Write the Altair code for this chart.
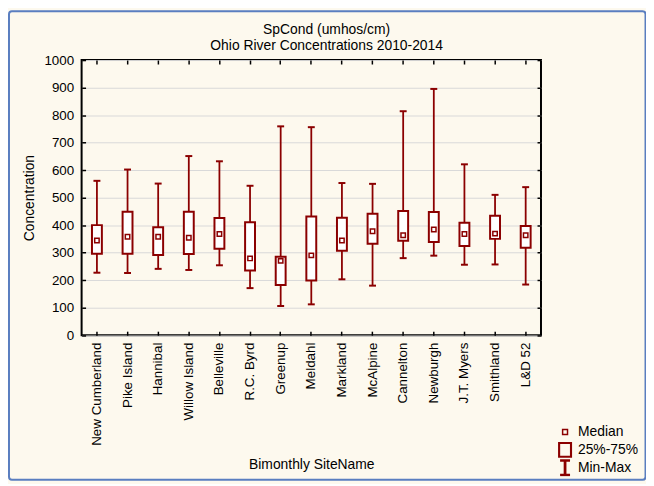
import altair as alt
import pandas as pd

# Ohio River SpCond box plot (min/max whiskers, 25-75% box, median square)
sites = ["New Cumberland", "Pike Island", "Hannibal", "Willow Island", "Belleville",
         "R.C. Byrd", "Greenup", "Meldahl", "Markland", "McAlpine",
         "Cannelton", "Newburgh", "J.T. Myers", "Smithland", "L&D 52"]
mins = [227, 226, 241, 237, 254, 171, 106, 112, 203, 180, 280, 289, 256, 257, 184]
q1s = [296, 296, 291, 295, 314, 235, 182, 199, 307, 332, 343, 339, 324, 350, 318]
medians = [344, 358, 358, 354, 368, 279, 270, 290, 344, 378, 363, 384, 368, 369, 363]
q3s = [400, 449, 392, 449, 426, 410, 285, 431, 427, 441, 451, 448, 409, 434, 397]
maxs = [561, 602, 551, 651, 632, 543, 759, 756, 553, 550, 814, 895, 621, 510, 538]
y_ticks = list(range(0, 1001, 100))

legend_items = ["Median", "25%-75%", "Min-Max"]
legend_shapes = ["M-0.33,-0.33H0.33V0.33H-0.33Z",
                 "M-0.8,-0.93H0.8V0.93H-0.8Z",
                 "M-0.67,-1H0.67M0,-1V1M-0.67,1H0.67"]
legend_widths = [1.5, 2.8, 1.3]

df = pd.DataFrame({"site": sites, "lo": mins, "q1": q1s, "med": medians,
                   "q3": q3s, "hi": maxs})

W, H = 463.7, 277.7
RED = "#8B0000"
FONT = "Liberation Sans"
CREAM = "#FDF9EE"

x_scale = alt.Scale(domain=sites, paddingInner=0, paddingOuter=0)
y_scale = alt.Scale(domain=[0, 1000], nice=False)


def tick_axis(orient, offset, **kw):
    # inward ticks: an axis pushed across the plot by a negative offset
    return alt.Axis(orient=orient, offset=offset, labels=False, domain=False,
                    grid=False, title=None, ticks=True, tickSize=4,
                    tickWidth=1.5, tickColor="black", **kw)


frame = alt.Chart(alt.Data(values=[{}])).mark_rect(
    fill="transparent", stroke="#5A7EC0", strokeWidth=2, cornerRadius=3, clip=False
).encode(
    x=alt.value(-73.3), x2=alt.value(569.2), y=alt.value(-49.3), y2=alt.value(423.7)
)

whisk = alt.Chart(df).mark_rule(color=RED, strokeWidth=1.8).encode(
    x=alt.X("site:N", scale=x_scale,
            axis=alt.Axis(title="Bimonthly SiteName", labelAngle=-90, ticks=False,
                          tickSize=0, domain=False, labelPadding=7,
                          titleX=W / 2, titleY=131, titleBaseline="middle")),
    y=alt.Y("lo:Q", scale=y_scale,
            axis=alt.Axis(values=y_ticks, format="d", ticks=False, tickSize=0,
                          domain=False, grid=True, gridColor="#d9d9d9", gridWidth=1,
                          labelPadding=8, title="Concentration",
                          titleX=-53, titleY=H / 2, titleBaseline="middle")),
    y2="hi:Q",
)

box = alt.Chart(df).mark_bar(size=10, fill="white", stroke=RED, strokeWidth=2).encode(
    x=alt.X("site:N", scale=x_scale, axis=tick_axis("bottom", -H)),
    y=alt.Y("q1:Q", scale=y_scale, axis=tick_axis("right", -W, values=y_ticks)),
    y2="q3:Q",
)

caps = alt.Chart(df).transform_fold(["lo", "hi"], as_=["end", "v"]).mark_tick(
    orient="horizontal", size=7, thickness=2, color=RED, opacity=1
).encode(
    x=alt.X("site:N", scale=x_scale, axis=tick_axis("top", -H)),
    y=alt.Y("v:Q", scale=y_scale, axis=tick_axis("left", -W, values=y_ticks)),
)

med = alt.Chart(df).mark_square(size=20, fill="white", stroke=RED, strokeWidth=1.5,
                                opacity=1).encode(
    x=alt.X("site:N", scale=x_scale, axis=None),
    y=alt.Y("med:Q", scale=y_scale, axis=None),
)

leg_props = dict(orient="none", legendX=479, legendY=367, title=None,
                 symbolSize=225, labelFontSize=14, labelFont=FONT,
                 labelColor="black", labelOffset=4, rowPadding=1, padding=0,
                 clipHeight=17, symbolStrokeColor=RED, symbolFillColor="transparent")

leg = alt.Chart(pd.DataFrame({"item": legend_items})).transform_filter(
    "false"
).mark_point(color=RED, filled=False, opacity=1).encode(
    shape=alt.Shape("item:N", scale=alt.Scale(domain=legend_items, range=legend_shapes),
                    legend=alt.Legend(**leg_props)),
    strokeWidth=alt.StrokeWidth("item:N",
                                scale=alt.Scale(domain=legend_items, range=legend_widths),
                                legend=alt.Legend(**leg_props)),
)

chart = alt.layer(frame, whisk, box, caps, med, leg).resolve_axis(
    x="independent", y="independent"
).properties(
    width=W,
    height=H,
    padding={"left": 74.3, "top": 50.3, "right": 106, "bottom": 148},
    autosize=alt.AutoSizeParams(type="none"),
    background=CREAM,
    title=alt.Title(["SpCond (umhos/cm)", "Ohio River Concentrations 2010-2014"],
                    fontSize=14, font=FONT, fontWeight="normal", color="black",
                    anchor="middle", frame="group", dx=15.5, dy=51, offset=8,
                    lineHeight=16),
).configure_view(
    fill="white", stroke="black", strokeWidth=2
).configure_axis(
    labelFont=FONT, titleFont=FONT, labelColor="black", titleColor="black",
    labelFontSize=13.5, titleFontSize=14, titleFontWeight="normal"
)

chart.save("out.html", embed_options={"renderer": "svg", "actions": False})
